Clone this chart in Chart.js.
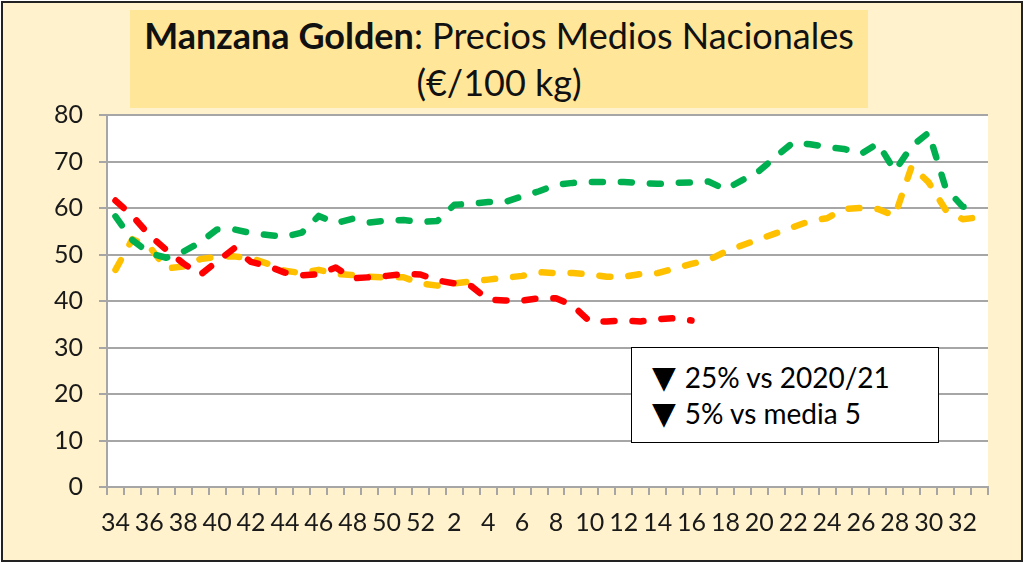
<!DOCTYPE html>
<html>
<head>
<meta charset="utf-8">
<script src="https://cdn.jsdelivr.net/npm/chart.js@4.4.0/dist/chart.umd.min.js"></script>
<style>
  body { margin: 0; width: 1024px; height: 563px; background: #fff; overflow: hidden; font-family: Lato, "Open Sans", sans-serif; }
  #cadre { position: absolute; left: 1px; top: 1px; width: 1018px; height: 557px; border: 2px solid #222; background: #FFF2CC; }
  #graphique { position: absolute; left: 0; top: 0; }
  #titre { position: absolute; left: 130px; top: 10px; width: 738px; height: 98px; background: #FFE699;
           text-align: center; font-size: 36px; line-height: 47px; color: #111; padding-top: 2px; box-sizing: border-box; }
  #note { position: absolute; left: 631px; top: 347px; width: 308px; height: 96px; background: #fff;
          border: 1.5px solid #000; font-size: 28px; line-height: 36px; color: #000; padding: 11px 0 0 20px; box-sizing: border-box; }
  .tri { font-family: "DejaVu Sans", sans-serif; font-size: 31px; margin-right: 9px; }
</style>
</head>
<body>
<div id="cadre"></div>
<canvas id="graphique" width="1024" height="563"></canvas>
<div id="titre"><b>Manzana Golden</b>: Precios Medios Nacionales<br>(€/100 kg)</div>
<div id="note">
  <div><span class="tri">▼</span>25% vs 2020/21</div>
  <div><span class="tri">▼</span>5% vs media 5</div>
</div>
<script>
// semaines de campagne (34 -> 52 puis 1 -> 33)
const semaines = [34, 35, 36, 37, 38, 39, 40, 41, 42, 43, 44, 45, 46, 47, 48, 49, 50, 51, 52,
  1, 2, 3, 4, 5, 6, 7, 8, 9, 10, 11, 12, 13, 14, 15, 16, 17, 18, 19, 20, 21, 22, 23, 24, 25, 26,
  27, 28, 29, 30, 31, 32, 33];

// campagne 2021/22 (rouge), s'arrête à la semaine 16
const campagne2122 = [61.6, 58.3, 54.2, 51.0, 48.1, 45.6, 48.5, 51.3, 48.4, 47.5, 46.1, 45.5,
  45.8, 47.2, 44.9, 45.1, 45.4, 45.8, 45.7, 44.4, 43.8, 43.2, 40.3, 40.1, 40.1, 40.6, 40.6,
  39.0, 35.6, 35.6, 35.8, 35.6, 36.1, 36.3, 35.8];

// campagne 2020/21 (vert)
const campagne2021 = [58.2, 53.1, 50.3, 49.3, 50.6, 52.6, 55.4, 55.4, 54.6, 54.2, 53.8, 54.7,
  58.3, 56.7, 57.7, 56.9, 57.3, 57.4, 57.0, 57.2, 60.7, 60.9, 61.3, 61.3, 62.5, 63.6, 65.0,
  65.4, 65.6, 65.6, 65.6, 65.4, 65.2, 65.4, 65.5, 65.7, 64.0, 66.0, 68.0, 71.1, 74.1, 73.7,
  73.1, 72.7, 71.6, 73.9, 68.0, 73.3, 76.2, 64.3, 60.3, 60.2];

// moyenne 5 campagnes (jaune)
const media5 = [46.7, 53.3, 51.7, 47.0, 47.4, 49.0, 49.5, 49.6, 49.2, 48.0, 46.5, 46.0,
  46.7, 45.8, 45.6, 45.2, 45.1, 45.1, 43.8, 43.3, 43.8, 44.2, 44.6, 45.0, 45.4, 46.2, 46.0,
  46.0, 45.7, 45.2, 45.2, 45.8, 46.0, 47.0, 48.0, 48.8, 50.6, 52.0, 53.3, 54.6, 55.9, 57.2,
  57.8, 59.8, 60.0, 59.8, 58.3, 69.0, 65.5, 59.6, 57.6, 58.0];

const grisAxe = '#A6A6A6';

function serie(nom, valeurs, couleur) {
  return {
    label: nom,
    data: valeurs,
    borderColor: couleur,
    borderWidth: 6.5,
    borderDash: [11, 18],
    borderCapStyle: 'round',
    borderJoinStyle: 'round',
    pointRadius: 0,
    tension: 0,
    fill: false
  };
}

// fond blanc de la zone de tracé
const fondBlanc = {
  id: 'fondBlanc',
  beforeDraw(chart) {
    const a = chart.chartArea;
    const ctx = chart.ctx;
    ctx.save();
    ctx.fillStyle = '#ffffff';
    ctx.fillRect(a.left, a.top, a.right - a.left, a.bottom - a.top);
    ctx.restore();
  }
};

const ctx = document.getElementById('graphique').getContext('2d');
new Chart(ctx, {
  type: 'line',
  data: {
    labels: semaines,
    datasets: [
      serie('2021/22', campagne2122, '#FF0000'),
      serie('2020/21', campagne2021, '#00B050'),
      serie('media 5', media5, '#FFC000')
    ]
  },
  options: {
    responsive: false,
    animation: false,
    layout: { padding: { top: 115, right: 36, left: 0, bottom: 0 } },
    plugins: { legend: { display: false }, tooltip: { enabled: false }, title: { display: false } },
    scales: {
      x: {
        offset: true,
        grid: { offset: true, drawOnChartArea: false, drawTicks: true, tickLength: 8, color: grisAxe, lineWidth: 2 },
        border: { color: grisAxe, width: 2 },
        ticks: {
          autoSkip: false, maxRotation: 0, minRotation: 0, padding: 13, color: '#1a1a1a',
          font: { family: 'Lato', size: 25 },
          callback: (v, i) => (i % 2 === 0 ? semaines[i] : '')
        },
        afterFit: s => { s.height = 76; }
      },
      y: {
        min: 0, max: 80,
        ticks: { stepSize: 10, padding: 16, color: '#1a1a1a', font: { family: 'Lato', size: 25 } },
        grid: { color: grisAxe, lineWidth: 2, tickLength: 8 },
        border: { color: grisAxe, width: 2 },
        afterFit: s => { s.width = 107; }
      }
    }
  },
  plugins: [fondBlanc]
});
</script>
</body>
</html>
